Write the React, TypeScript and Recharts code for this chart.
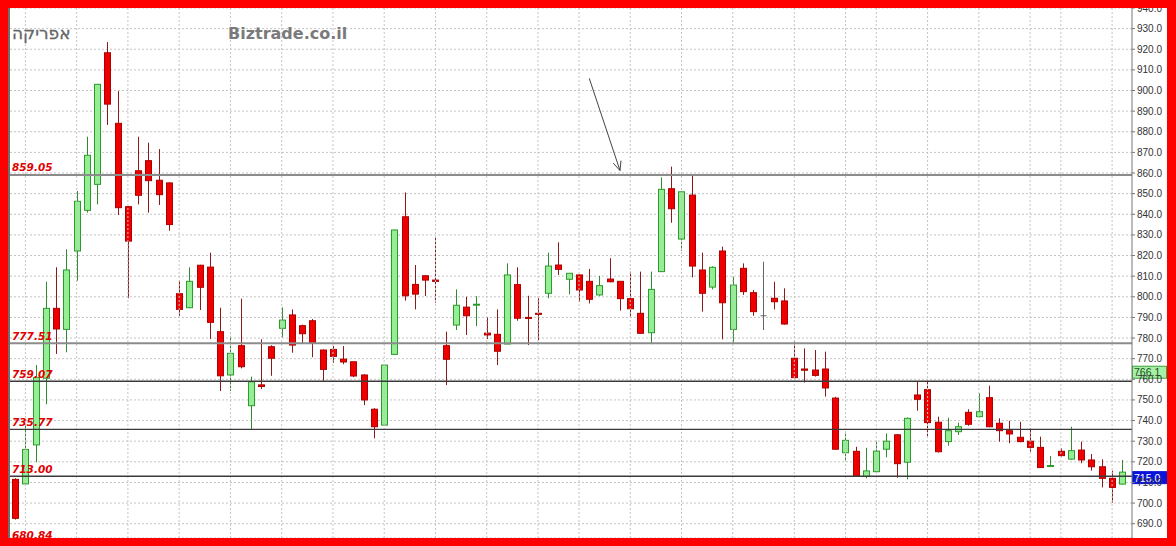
import React from 'react';
import { ComposedChart, Bar, XAxis, YAxis, CartesianGrid, ReferenceLine } from 'recharts';

const opens = [711.5,709.3,728.2,760.5,794.4,784.2,822.2,841.9,854.5,918.3, 884.1,843.7,861.1,866.0,856.5,855.2,801.5,794.7,815.3,814.4, 783.1,762.1,776.3,747.2,757.3,775.8,784.7,791.2,786.0,788.4, 774.2,774.5,769.8,768.5,762.1,745.5,737.8,772.1,838.8,806.0, 810.2,808.1,776.3,786.3,795.0,796.0,782.4,781.8,777.1,805.9, 790.0,792.0,801.7,815.4,808.5,810.6,807.5,800.9,808.6,807.5, 799.1,792.0,782.6,812.2,852.4,828.0,849.3,813.0,804.7,822.2, 784.2,813.8,802.0,790.8,799.3,798.0,770.2,765.0,764.5,765.0, 750.9,724.4,725.1,712.9,715.2,726.1,733.1,719.8,752.4,755.0, 739.2,729.8,734.6,744.0,741.9,751.1,738.7,735.1,731.9,730.0, 727.0,717.7,725.1,721.3,725.7,720.9,717.6,712.0,709.2];
const highs = [712.0,737.8,766.9,807.3,814.3,823.0,851.3,877.6,903.2,923.5, 899.7,844.0,877.6,874.7,871.6,855.5,807.8,814.3,815.5,821.4, 794.7,781.1,799.1,761.3,779.4,776.5,794.9,793.9,786.5,789.2, 774.5,776.1,776.1,768.6,762.5,746.0,767.0,832.5,850.6,815.4, 810.5,828.8,783.1,803.6,800.0,800.3,790.0,793.9,816.2,814.3, 800.5,799.3,821.4,826.4,811.5,810.8,813.5,810.1,818.7,807.6, 812.2,812.2,812.2,857.9,863.1,851.0,859.0,821.4,814.8,824.3, 809.7,816.2,803.3,817.0,807.3,804.1,778.7,775.0,774.2,773.4, 751.5,734.6,727.3,726.8,729.8,733.8,733.5,741.5,758.8,758.8, 741.9,741.4,739.0,745.5,753.2,756.9,741.1,739.9,739.4,736.2, 732.2,722.8,726.6,737.0,729.8,723.8,721.2,715.7,720.9];
const lows = [692.0,709.0,719.8,747.9,772.3,773.1,807.8,840.8,844.8,883.3, 839.6,799.3,844.8,840.8,844.5,832.0,790.8,794.5,793.6,779.5, 754.3,754.3,765.3,735.9,755.3,761.7,780.4,772.9,777.4,770.7, 759.3,768.0,767.3,761.0,747.5,731.4,737.5,772.0,798.1,793.9, 800.4,797.1,757.2,783.9,781.5,785.8,779.5,766.9,777.0,788.4, 776.6,779.0,799.3,810.6,801.2,797.6,796.8,800.5,807.0,793.3, 790.3,782.0,777.0,812.0,835.9,822.3,809.4,792.8,803.6,779.4, 777.7,800.9,790.8,783.9,793.9,786.5,760.5,758.4,761.3,751.6, 726.0,720.4,713.0,712.0,715.0,722.2,712.3,711.5,744.8,732.2, 724.5,727.8,733.0,737.5,741.5,736.8,729.8,729.0,729.5,724.9, 717.0,717.5,722.5,721.0,719.3,715.7,707.6,700.2,709.0];
const closes = [692.6,726.0,760.8,794.4,784.4,813.0,846.3,868.6,903.0,893.4, 843.2,827.0,849.2,856.3,849.5,835.0,793.9,807.5,804.6,787.6, 761.7,772.6,766.1,758.8,756.5,770.2,788.7,776.6,782.1,777.7, 764.8,771.1,768.4,761.6,750.0,737.0,766.9,832.4,800.5,801.3, 808.1,807.5,769.7,795.9,790.8,796.4,781.5,773.6,810.6,789.6, 789.7,791.5,814.9,813.3,811.4,803.3,798.8,805.4,807.3,799.1, 794.2,782.3,803.6,852.1,842.7,850.9,814.9,801.7,814.3,797.1, 805.7,802.5,792.8,790.8,797.6,786.8,760.8,764.4,761.9,755.8, 726.1,730.4,713.1,715.6,725.2,730.0,719.1,741.1,750.3,739.0, 724.9,735.1,737.0,738.2,744.3,737.0,735.1,733.5,729.8,727.0, 717.2,718.2,723.0,725.4,720.9,717.6,712.0,707.6,715.0];

const yTicks = [690,700,710,720,730,740,750,760,770,780,790,800,810,820,830,840,850,860,870,880,890,900,910,920,930,940];
const yDomain = [683.07, 940];
const weekStarts = [1,6,11,16,21,26,31,36,41,46,51,55,60,65,70,76,81,84,89,94,99,102,107];
const levels = [859.05, 777.51, 759.07, 735.77, 713.0, 680.84];
const levelLabels = ['859.05', '777.51', '759.07', '735.77', '713.00', '680.84'];
const markerValue = 766.1;
const lastValue = 715.0;
const arrowFrom = { x: 56, y: 905.9 };
const arrowTo = { x: 59, y: 861.2 };
const title = 'אפריקה';
const watermark = 'Biztrade.co.il';

const data = opens.map((o, i) => ({ i, o, h: highs[i], l: lows[i], c: closes[i], range: [lows[i], highs[i]] }));

const levelStroke = (v: number) => (v === 859.05 || v === 777.51 ? '#8c8c8c' : '#3a3a3a');
const levelWidth = (v: number) => (v === 859.05 || v === 777.51 ? 2 : 1.3);

const Candle = (props: any) => {
  const { x, y, width, height, payload } = props;
  if (!payload) return null;
  const { o, h, l, c } = payload;
  const top0 = Math.min(y, y + height);
  const k = Math.abs(height) / (h - l);
  const py = (v: number) => top0 + (h - v) * k;
  const cx = Math.round(x + width / 2) + 0.5;
  const up = c > o;
  const flat = c === o;
  const fill = up ? '#94ee94' : '#ee0000';
  const stroke = up ? '#2e9a2e' : '#b00000';
  const wick = flat ? '#666666' : up ? '#2e8b2e' : '#8b1a1a';
  const t = py(Math.max(o, c));
  const b = py(Math.min(o, c));
  return (
    <g>
      <line x1={cx} x2={cx} y1={py(h)} y2={py(l)} stroke={wick} strokeWidth={1} />
      {flat ? (
        <line x1={cx - 3} x2={cx + 3} y1={t} y2={t} stroke={wick} strokeWidth={1} />
      ) : (
        <rect x={cx - 3} y={t} width={6} height={Math.max(b - t, 1)} fill={fill} stroke={stroke} strokeWidth={1} />
      )}
    </g>
  );
};

const LevelLabel = (props: any) => {
  const { viewBox, text } = props;
  if (!viewBox) return null;
  return (
    <text x={viewBox.x + 2} y={viewBox.y - 3.5} fill="#e00000" fontSize={10.5} fontWeight="bold" fontStyle="italic" fontFamily="DejaVu Sans">
      {text}
    </text>
  );
};

const PriceBox = (props: any) => {
  const { viewBox, text, bg, border, color } = props;
  if (!viewBox) return null;
  const x0 = viewBox.x + viewBox.width;
  return (
    <g>
      <rect x={x0 + 0.5} y={viewBox.y - 0.5} width={34} height={12} fill={bg} stroke={border} strokeWidth={1} />
      <text x={x0 + 2} y={viewBox.y + 9.5} fill={color} fontSize={10.5} fontFamily="Liberation Sans">{text}</text>
    </g>
  );
};

const ArrowShape = (props: any) => {
  const { x1, y1, x2, y2 } = props;
  if (x1 == null) return null;
  const ang = Math.atan2(y1 - y2, x1 - x2);
  const len = 10;
  const spread = 0.42;
  const a1x = x2 + len * Math.cos(ang + spread);
  const a1y = y2 + len * Math.sin(ang + spread);
  const a2x = x2 + len * Math.cos(ang - spread);
  const a2y = y2 + len * Math.sin(ang - spread);
  return (
    <g stroke="#444" strokeWidth={1} fill="none">
      <line x1={x1} y1={y1} x2={x2} y2={y2} />
      <line x1={x2} y1={y2} x2={a1x} y2={a1y} />
      <line x1={x2} y1={y2} x2={a2x} y2={a2y} />
    </g>
  );
};

export default function App() {
  return (
    <div style={{ position: 'fixed', left: 0, top: 0, width: 1176, height: 546, background: '#ff0000' }}>
      <div style={{ position: 'absolute', left: 8, top: 8, width: 1159, height: 530, background: '#ffffff', overflow: 'hidden' }}>
        <ComposedChart width={1159} height={530} data={data} margin={{ top: 0, right: 0, bottom: 0, left: 2 }} barCategoryGap={1}>
          <CartesianGrid horizontal vertical={false} stroke="#c4c4c4" strokeDasharray="2 2" />
          <XAxis dataKey="i" hide padding={{ left: 0, right: 4.5 }} />
          <YAxis
            orientation="right"
            width={35}
            domain={yDomain}
            ticks={yTicks}
            allowDataOverflow
            interval={0}
            tickFormatter={(v: number) => v.toFixed(1)}
            tick={{ fill: '#333', fontSize: 10, fontFamily: 'Liberation Sans' }}
            tickSize={3}
            tickMargin={2}
            axisLine={{ stroke: '#777' }}
            tickLine={{ stroke: '#777' }}
          />
          {weekStarts.map((w) => (
            <ReferenceLine key={'w' + w} x={w} stroke="#c4c4c4" strokeDasharray="2 2" />
          ))}
          <Bar dataKey="range" shape={<Candle />} isAnimationActive={false} />
          {levels.map((v, idx) => (
            <ReferenceLine
              key={'l' + v}
              y={v}
              ifOverflow="visible"
              stroke={levelStroke(v)}
              strokeWidth={levelWidth(v)}
              label={<LevelLabel text={levelLabels[idx]} />}
            />
          ))}
          <ReferenceLine segment={[arrowFrom, arrowTo]} ifOverflow="visible" shape={<ArrowShape />} />
          <ReferenceLine y={markerValue} stroke="none" label={<PriceBox text={markerValue.toFixed(1)} bg="#a6f0a6" border="#3aa03a" color="#1d4d1d" />} />
          <ReferenceLine y={lastValue} stroke="none" label={<PriceBox text={lastValue.toFixed(1)} bg="#0a14d8" border="#0a14d8" color="#ffffff" />} />
        </ComposedChart>
        <div style={{ position: 'absolute', left: 0, top: 0, width: 2, height: 530, background: '#6e6e6e' }} />
        <svg style={{ position: 'absolute', left: 0, top: 0, pointerEvents: 'none' }} width={1159} height={530}>
          <text x={4} y={31} fontFamily="DejaVu Sans" fontSize={17} fill="#666666" stroke="#666666" strokeWidth={0.3}>{title}</text>
          <text x={220} y={30.7} fontFamily="DejaVu Sans" fontWeight="bold" fontSize={16} fill="#7a7a7a">{watermark}</text>
        </svg>
      </div>
    </div>
  );
}
